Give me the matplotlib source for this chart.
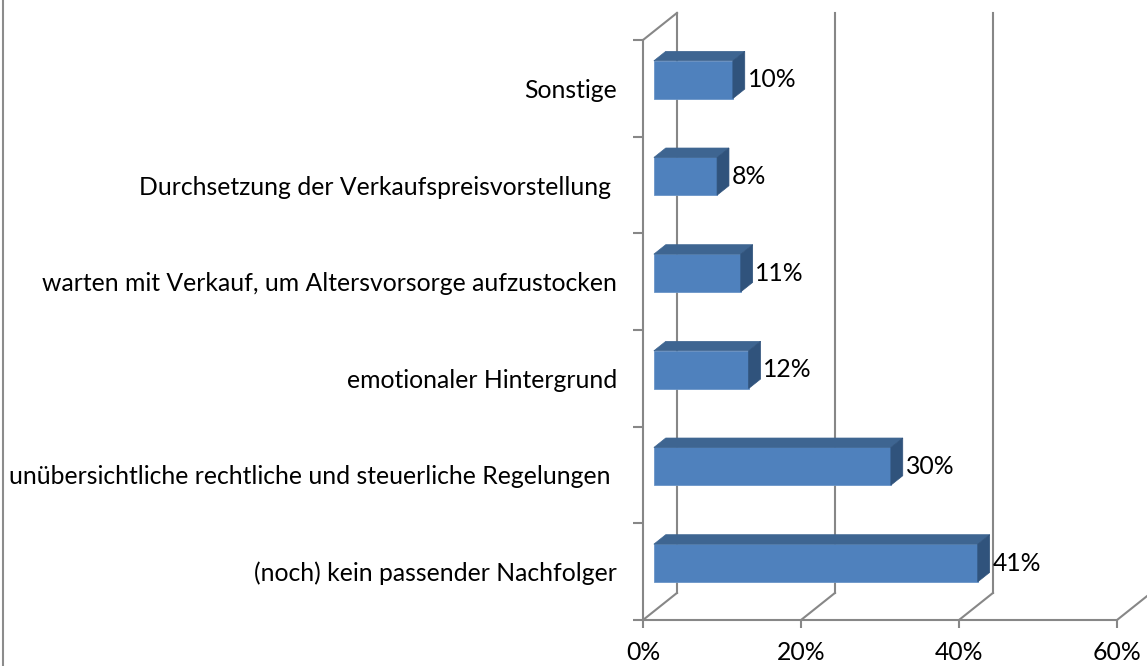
import numpy as np
import matplotlib.pyplot as plt
from matplotlib.patches import Polygon
from matplotlib.lines import Line2D

# categories from bottom to top (as drawn)
categories = ['(noch) kein passender Nachfolger',
              'unübersichtliche rechtliche und steuerliche Regelungen ',
              'emotionaler Hintergrund',
              'warten mit Verkauf, um Altersvorsorge aufzustocken',
              'Durchsetzung der Verkaufspreisvorstellung ',
              'Sonstige']
values = [41, 30, 12, 11, 8, 10]
x_ticks = [0, 20, 40, 60]
x_tick_labels = ['0%', '20%', '40%', '60%']

plt.rcParams['font.family'] = ['Lato', 'DejaVu Sans']
fs = 17.8

W, H = 1147, 666
fig = plt.figure(figsize=(W / 100, H / 100), dpi=100)
ax = fig.add_axes([643 / W, 46 / H, 474 / W, 580 / H])
ax.set_xlim(0, 60)
ax.set_ylim(-0.5, 5.5)

# fake 3d depth (data units)
depth_x, depth_y = 4.3, 0.28
grid_c = '#878787'
lw = 1.5

# floor diagonals and back wall lines
for xt in x_ticks:
    ax.plot([xt, xt + depth_x], [-0.5, -0.5 + depth_y], color=grid_c, lw=lw, clip_on=False, zorder=1)
    ax.plot([xt + depth_x] * 2, [-0.5 + depth_y, 5.5 + depth_y], color=grid_c, lw=lw, clip_on=False, zorder=1)
ax.plot([0, depth_x], [5.5, 5.5 + depth_y], color=grid_c, lw=lw, clip_on=False, zorder=1)

# bars
f0, fd, bh = 0.32, 0.35, 0.39
front_c, top_c, side_c = '#4F81BD', '#3E6591', '#30537C'
ypos = np.arange(len(categories))
for i, v in zip(ypos, values):
    x0 = f0 * depth_x
    yc = i + f0 * depth_y
    ax.barh(yc, v, left=x0, height=bh, color=front_c, edgecolor='#6A95C8', lw=0.6, zorder=3)
    ox, oy = fd * depth_x, fd * depth_y
    top = [(x0, yc + bh / 2), (x0 + v, yc + bh / 2),
           (x0 + v + ox, yc + bh / 2 + oy), (x0 + ox, yc + bh / 2 + oy)]
    side = [(x0 + v, yc - bh / 2), (x0 + v, yc + bh / 2),
            (x0 + v + ox, yc + bh / 2 + oy), (x0 + v + ox, yc - bh / 2 + oy)]
    ax.add_patch(Polygon(top, closed=True, facecolor=top_c, edgecolor=top_c, lw=0.5, zorder=3, clip_on=False))
    ax.add_patch(Polygon(side, closed=True, facecolor=side_c, edgecolor=side_c, lw=0.5, zorder=3, clip_on=False))
    ax.text(x0 + v + ox + 0.35, yc, f'{v}%', va='center', ha='left', fontsize=fs, color='black', zorder=4)

# axes styling
for s in ['top', 'right']:
    ax.spines[s].set_visible(False)
for s in ['left', 'bottom']:
    ax.spines[s].set_color(grid_c)
    ax.spines[s].set_linewidth(lw)

ax.set_yticks(ypos, labels=categories)
ax.set_yticks(np.arange(-0.5, 6, 1), minor=True)
ax.tick_params(axis='y', which='major', length=0, pad=18.7, labelsize=fs)
ax.tick_params(axis='y', which='minor', length=7, width=lw, color=grid_c)
ax.set_xticks(x_ticks, x_tick_labels)
ax.tick_params(axis='x', length=6, width=lw, color=grid_c, pad=9, labelsize=fs)

# frame border on the left edge
fig.add_artist(Line2D([2.5 / W] * 2, [0, 1], color='#8C8C8C', lw=1.5))

fig.savefig('out.png', dpi=100)
